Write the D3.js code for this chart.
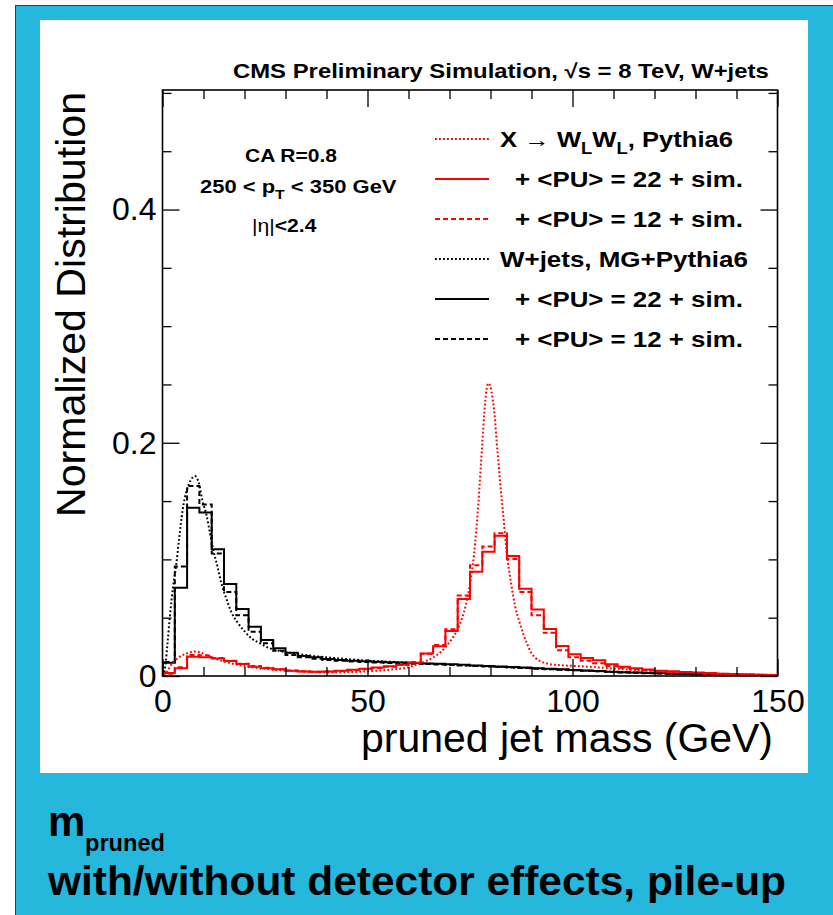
<!DOCTYPE html>
<html><head><meta charset="utf-8">
<script src="https://cdn.jsdelivr.net/npm/d3@7"></script>
<style>
html,body{margin:0;padding:0;background:#fff;}
svg{display:block;}
text{font-family:"Liberation Sans",Arial,Helvetica,sans-serif;}
</style>
</head><body>
<svg id="c" width="833" height="915"></svg>
<script>
// ---------------- DATA ----------------
// lower edges of 3 GeV bins (pruned jet mass, GeV)
const massBins = [0,3,6,9,12,15,18,21,24,27,30,33,36,39,42,45,48,51,54,57,60,63,66,69,72,75,78,81,84,87,90,93,96,99,102,105,108,111,114,117,120,123,126,129,132,135,138,141,144,147];

// X -> WLWL, + <PU> = 22 + sim. (red solid)
const sigPU22 = [0.0025,0.0066,0.0166,0.016,0.0149,0.0129,0.0103,0.008,0.0066,0.0057,0.0046,0.0038,0.0037,0.0039,0.0045,0.0053,0.0062,0.0072,0.0083,0.0096,0.0114,0.0193,0.0255,0.0386,0.066,0.0894,0.1066,0.1203,0.1029,0.0748,0.057,0.0403,0.0257,0.0186,0.0155,0.0135,0.010,0.008,0.0066,0.0055,0.0046,0.004,0.0035,0.003,0.0025,0.002,0.0016,0.0013,0.001,0.0008];
// X -> WLWL, + <PU> = 12 + sim. (red dashed)
const sigPU12 = [0.002,0.0075,0.018,0.0175,0.0155,0.013,0.0105,0.0085,0.007,0.0058,0.0048,0.004,0.0037,0.0038,0.0043,0.005,0.0058,0.0068,0.008,0.0095,0.012,0.019,0.0266,0.040,0.069,0.095,0.111,0.1225,0.1003,0.072,0.052,0.037,0.022,0.016,0.013,0.011,0.0085,0.007,0.0058,0.0048,0.004,0.0034,0.0029,0.0024,0.002,0.0016,0.0013,0.0011,0.0009,0.0007];
// W+jets, + <PU> = 22 + sim. (black solid)
const wjPU22 = [0.0114,0.0757,0.1443,0.1403,0.1086,0.0789,0.0574,0.0423,0.0309,0.0237,0.020,0.0171,0.016,0.0146,0.0137,0.0131,0.0126,0.0122,0.0118,0.0115,0.0112,0.0108,0.0104,0.010,0.0096,0.0091,0.0086,0.0082,0.0077,0.0072,0.0067,0.0062,0.0057,0.0052,0.0047,0.0042,0.0037,0.0033,0.0029,0.0026,0.0023,0.002,0.0018,0.0016,0.0014,0.0012,0.0011,0.001,0.0009,0.0008];
// W+jets, + <PU> = 12 + sim. (black dashed)
const wjPU12 = [0.012,0.094,0.163,0.147,0.105,0.072,0.052,0.038,0.028,0.0217,0.018,0.016,0.0148,0.0138,0.013,0.0124,0.012,0.0116,0.0112,0.0109,0.0106,0.0102,0.0098,0.0094,0.009,0.0086,0.0082,0.0077,0.0073,0.0068,0.0063,0.0058,0.0054,0.0049,0.0044,0.004,0.0035,0.0031,0.0027,0.0024,0.0021,0.0019,0.0017,0.0015,0.0013,0.0011,0.001,0.0009,0.0008,0.0007];

// X -> WLWL, Pythia6 (red dotted, fine binning)
const sigGenMass = [0.5,1,1.5,2,3,4,5,6,7,8,9,10,11,12,14,16,18,20,22,25,28,31,34,37,40,43,46,49,52,55,58,60,62,64,66,68,70,71,72,73,74,75,76,77,78,78.5,79,79.5,80,80.5,81,81.5,82,82.5,83,84,85,86,87,88,89,90,91,92,93,94,96,98,100,103,106,110,115,120,125,130,135,140,145,150];
const sigGen = [0.0,0.003,0.006,0.009,0.013,0.016,0.018,0.0195,0.0205,0.021,0.0205,0.019,0.0175,0.016,0.0135,0.0115,0.0098,0.0085,0.0074,0.0062,0.0052,0.0044,0.0038,0.0034,0.0032,0.0032,0.0034,0.0038,0.0044,0.0052,0.0064,0.0075,0.0098,0.0125,0.0158,0.021,0.029,0.034,0.040,0.049,0.061,0.079,0.105,0.146,0.200,0.226,0.245,0.251,0.248,0.238,0.224,0.201,0.181,0.160,0.142,0.105,0.080,0.060,0.047,0.036,0.027,0.0194,0.0155,0.013,0.0115,0.0105,0.0095,0.009,0.0087,0.0082,0.0074,0.0064,0.0052,0.0042,0.0034,0.0027,0.0021,0.0016,0.0012,0.0009];
// W+jets, MG+Pythia6 (black dotted, fine binning)
const wjGenMass = [0.3,0.8,1.2,1.8,2.6,3.3,4.1,4.9,5.9,6.9,7.9,8.9,9.7,10.8,11.6,12.4,13.4,14.4,15.7,16.9,18.5,20.1,21.8,23.8,26.2,29,32,36,40,44,48,52,56,60,65,70,75,80,85,90,95,100,105,110,115,120,125,130,135,140,145,150];
const wjGen = [0.0,0.012,0.027,0.051,0.077,0.094,0.119,0.142,0.159,0.168,0.1714,0.165,0.151,0.137,0.122,0.108,0.094,0.079,0.065,0.054,0.045,0.038,0.032,0.028,0.0237,0.0212,0.0194,0.0175,0.016,0.0148,0.0137,0.0128,0.0121,0.0114,0.0106,0.0098,0.009,0.0082,0.0074,0.0066,0.0058,0.005,0.0043,0.0036,0.003,0.0025,0.002,0.0017,0.0014,0.0012,0.001,0.0009];

const xMajor = [0,50,100,150];
const xMajorLabels = ["0","50","100","150"];
const xMinor = [10,20,30,40,60,70,80,90,110,120,130,140];
const yMajor = [0,0.2,0.4];
const yMajorLabels = ["0","0.2","0.4"];
const yMinor = [0.05,0.1,0.15,0.25,0.3,0.35,0.45,0.5];

// ---------------- DRAW ----------------
const svg = d3.select("#c");
const BLUE = "#26b7dd";
const RED = "#ff0000";

// background frame
svg.append("rect").attr("x",0).attr("y",0).attr("width",833).attr("height",915).attr("fill","#fff");
svg.append("rect").attr("x",15.5).attr("y",5.5).attr("width",830).attr("height",920)
  .attr("fill",BLUE).attr("stroke","#3a3a3a").attr("stroke-width",1);
svg.append("rect").attr("x",40).attr("y",20).attr("width",768).attr("height",753).attr("fill","#fff");

const L = 162.5, R = 777.5, T = 90, B = 676;
const x = d3.scaleLinear().domain([0,150]).range([L,R]);
const y = d3.scaleLinear().domain([0,0.5025]).range([B,T]);

svg.append("clipPath").attr("id","clip").append("rect")
  .attr("x",L).attr("y",T).attr("width",R-L).attr("height",B-T);
const plot = svg.append("g").attr("clip-path","url(#clip)");

function stepPts(vals){
  const pts=[[0,0]];
  vals.forEach((v,i)=>pts.push([massBins[i],v]));
  pts.push([150,vals[vals.length-1]]);
  pts.push([150,0]);
  return pts;
}
const stepLine = d3.line().x(d=>x(d[0])).y(d=>y(d[1])).curve(d3.curveStepAfter);
const smoothLine = d3.line().x(d=>x(d[0])).y(d=>y(d[1])).curve(d3.curveMonotoneX);

const DOT = "1.8 2.2", DASH = "5 3";
function drawStep(vals,color,dash){
  plot.append("path").attr("d",stepLine(stepPts(vals))).attr("fill","none")
    .attr("stroke",color).attr("stroke-width",2).attr("stroke-dasharray",dash||null);
}
function drawSmooth(ms,vals,color){
  plot.append("path").attr("d",smoothLine(ms.map((m,i)=>[m,vals[i]]))).attr("fill","none")
    .attr("stroke",color).attr("stroke-width",2).attr("stroke-dasharray",DOT);
}
drawSmooth(wjGenMass,wjGen,"#000");
drawStep(wjPU12,"#000",DASH);
drawStep(wjPU22,"#000");
drawSmooth(sigGenMass,sigGen,RED);
drawStep(sigPU12,RED,DASH);
drawStep(sigPU22,RED);

// axes (inward ticks on all four sides)
function styleAxis(g){ g.select(".domain").remove(); g.selectAll(".tick line").attr("stroke","#000").attr("stroke-width",1.3); }
svg.append("g").attr("transform",`translate(0,${B})`)
  .call(d3.axisBottom(x).tickValues(xMinor).tickSize(-9).tickFormat(""))
  .call(styleAxis);
const xb = svg.append("g").attr("transform",`translate(0,${B})`)
  .call(d3.axisBottom(x).tickValues(xMajor).tickSize(-17).tickPadding(13).tickFormat((d,i)=>xMajorLabels[i]))
  .call(styleAxis);
xb.selectAll("text").attr("font-size",32).attr("fill","#000").attr("font-family","'Liberation Sans',Arial,sans-serif");
svg.append("g").attr("transform",`translate(0,${T})`)
  .call(d3.axisTop(x).tickValues(xMinor).tickSize(-9).tickFormat("")).call(styleAxis);
svg.append("g").attr("transform",`translate(0,${T})`)
  .call(d3.axisTop(x).tickValues(xMajor).tickSize(-17).tickFormat("")).call(styleAxis);

svg.append("g").attr("transform",`translate(${L},0)`)
  .call(d3.axisLeft(y).tickValues(yMinor).tickSize(-9).tickFormat("")).call(styleAxis);
const yl = svg.append("g").attr("transform",`translate(${L},0)`)
  .call(d3.axisLeft(y).tickValues(yMajor).tickSize(-17).tickPadding(6).tickFormat((d,i)=>yMajorLabels[i]))
  .call(styleAxis);
yl.selectAll("text").attr("font-size",32).attr("fill","#000").attr("font-family","'Liberation Sans',Arial,sans-serif");
svg.append("g").attr("transform",`translate(${R},0)`)
  .call(d3.axisRight(y).tickValues(yMinor).tickSize(-9).tickFormat("")).call(styleAxis);
svg.append("g").attr("transform",`translate(${R},0)`)
  .call(d3.axisRight(y).tickValues(yMajor).tickSize(-17).tickFormat("")).call(styleAxis);

svg.append("rect").attr("x",L).attr("y",T).attr("width",R-L).attr("height",B-T)
  .attr("fill","none").attr("stroke","#000").attr("stroke-width",1.6);

// axis titles
svg.append("text").attr("transform","translate(85,92) rotate(-90)").attr("text-anchor","end")
  .attr("font-size",41).attr("textLength",425).attr("lengthAdjust","spacingAndGlyphs")
  .text("Normalized Distribution");
svg.append("text").attr("x",773).attr("y",752).attr("text-anchor","end")
  .attr("font-size",40).attr("textLength",412).attr("lengthAdjust","spacingAndGlyphs")
  .text("pruned jet mass (GeV)");

// helper: text made of parts, fitted to a width
function richText(x0,yb,size,parts,target,weight){
  const t = svg.append("text").attr("transform",`translate(${x0},${yb})`)
    .attr("font-size",size).attr("font-weight",weight||"bold");
  parts.forEach(p=>{
    const s = t.append("tspan").text(p.t);
    if(p.sub){ s.attr("font-size",size*0.72).attr("dy",size*0.3); }
    if(p.back){ s.attr("dy",-size*0.3); }
    if(p.w) s.attr("font-weight",p.w);
  });
  if(target){
    const w = t.node().getBBox().width;
    t.attr("transform",`translate(${x0},${yb}) scale(${target/w},1)`);
  }
  return t;
}

// title
richText(233,78,20,[{t:"CMS Preliminary Simulation, \u221As = 8 TeV, W+jets"}],536);

// selection text
richText(245,162,19,[{t:"CA R=0.8"}],92);
richText(200,193,19,[{t:"250 < p"},{t:"T",sub:true},{t:" < 350 GeV",back:true}],197);
richText(252,232,19,[{t:"|\u03B7|",w:"normal"},{t:"<2.4"}],65);

// legend
const legRows = [
  {c:RED,d:DOT,x:500,w:233,parts:[{t:"X \u2192 W"},{t:"L",sub:true},{t:"W",back:true},{t:"L",sub:true},{t:", Pythia6",back:true}]},
  {c:RED,d:null,x:515,w:228,parts:[{t:"+ <PU> = 22 + sim."}]},
  {c:RED,d:DASH,x:515,w:228,parts:[{t:"+ <PU> = 12 + sim."}]},
  {c:"#000",d:DOT,x:500,w:248,parts:[{t:"W+jets, MG+Pythia6"}]},
  {c:"#000",d:null,x:515,w:228,parts:[{t:"+ <PU> = 22 + sim."}]},
  {c:"#000",d:DASH,x:515,w:228,parts:[{t:"+ <PU> = 12 + sim."}]}
];
const legY = [139,179,219,259,299,339];
legRows.forEach((r,i)=>{
  svg.append("line").attr("x1",435).attr("x2",489).attr("y1",legY[i]).attr("y2",legY[i])
    .attr("stroke",r.c).attr("stroke-width",2).attr("stroke-dasharray",r.d);
  richText(r.x,legY[i]+8,22,r.parts,r.w);
});

// caption
svg.append("text").attr("x",48).attr("y",836).attr("font-size",42).attr("font-weight","bold").text("m");
svg.append("text").attr("x",85).attr("y",851).attr("font-size",23).attr("font-weight","bold")
  .attr("textLength",80).attr("lengthAdjust","spacingAndGlyphs").text("pruned");
svg.append("text").attr("x",48).attr("y",895).attr("font-size",41).attr("font-weight","bold")
  .attr("textLength",738).attr("lengthAdjust","spacingAndGlyphs")
  .text("with/without detector effects, pile-up");
</script>
</body></html>
